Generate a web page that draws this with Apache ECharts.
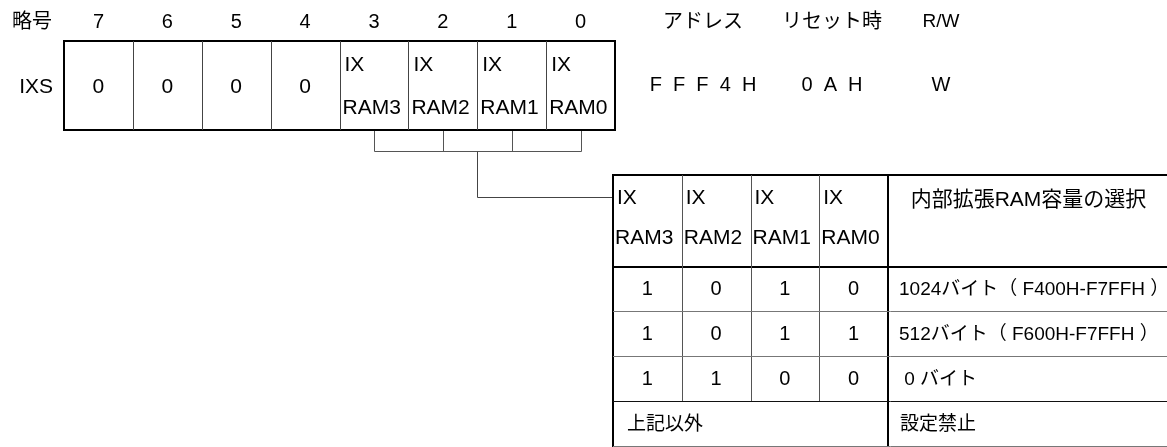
<!DOCTYPE html>
<html><head><meta charset="utf-8">
<script src="https://cdn.jsdelivr.net/npm/echarts@6/dist/echarts.min.js"></script>
<style>html,body{margin:0;padding:0;background:#fff}#c{width:1167px;height:447px}</style>
</head><body><div id="c"></div>
<script>
// ---- content (data) ----
const abbrevLabel = '略号';
const bitNumbers = ['7', '6', '5', '4', '3', '2', '1', '0'];
const registerName = 'IXS';
const registerCells = [['0'], ['0'], ['0'], ['0'], ['IX', 'RAM3'], ['IX', 'RAM2'], ['IX', 'RAM1'], ['IX', 'RAM0']];
const infoHeaders = ['アドレス', 'リセット時', 'R/W'];
const infoValues = ['F  F  F  4  H', '0  A  H', 'W'];
const tableBitHeaders = [['IX', 'RAM3'], ['IX', 'RAM2'], ['IX', 'RAM1'], ['IX', 'RAM0']];
const tableDescHeader = '内部拡張RAM容量の選択';
const tableBitRows = [['1', '0', '1', '0'], ['1', '0', '1', '1'], ['1', '1', '0', '0']];
const tableDescs = ['1024バイト（ F400H-F7FFH ）', '512バイト（ F600H-F7FFH ）', ' 0 バイト'];
const otherLabel = '上記以外';
const otherDesc = '設定禁止';

// ---- layout (positions in diagram units, mapped by hidden axes) ----
const W = 1167, H = 447;
const FONT = '"Liberation Sans", Arial, "Noto Sans CJK JP", sans-serif';
const regLeft = 64, regRight = 615, regTop = 41, regBottom = 130;
const regColW = (regRight - regLeft) / 8;
const headY = 22, cellY = 87, ixY = 65, ramY = 108, infoValY = 85;
const infoX = [703, 832, 941];
const brY = 151, brMidX = 477, connY = 197;
const tLeft = 613, tDiv = 888, tRight = 1180, tTop = 175, tHeadBottom = 267, tRowH = 45;
const tColW = (tDiv - tLeft) / 4;
const fsLatin = 21, fsCjk = 20, fsHeadNum = 20, fsCell = 20, fsDesc = 19, fsDescHead = 21;

const els = [];
function line(pts, w, c) { els.push({ k: 'line', pts, w, c }); }
function text(x, y, t, align, size) { els.push({ k: 'text', x, y, t, align, size }); }
const px = v => Math.round(v) + 0.5;

// register header row
text(12, headY, abbrevLabel, 'left', fsCjk);
bitNumbers.forEach((b, i) => text(regLeft + (i + 0.5) * regColW, headY, b, 'center', fsHeadNum));
infoHeaders.forEach((h, i) => text(infoX[i], headY, h, 'center', i === 2 ? 19 : fsCjk));
infoValues.forEach((v, i) => text(infoX[i], infoValY, v, 'center', 20));
text(53, cellY, registerName, 'right', fsLatin);
// register box
els.push({ k: 'rect', x: regLeft, y: regTop, w: regRight - regLeft, h: regBottom - regTop });
for (let i = 1; i < 8; i++) line([[px(regLeft + i * regColW), regTop], [px(regLeft + i * regColW), regBottom]], 1, '#444');
registerCells.forEach((c, i) => {
  const l = regLeft + i * regColW;
  if (c.length === 1) text(l + regColW / 2, cellY, c[0], 'center', fsLatin);
  else { text(l + 5, ixY, c[0], 'left', fsLatin); text(l + 3, ramY, c[1], 'left', fsLatin); }
});
// bracket
const brXs = [4, 5, 6, 7].map(i => px(regLeft + (i + 0.5) * regColW));
brXs.forEach(x => line([[x, regBottom + 1], [x, px(brY)]], 1, '#555'));
line([[brXs[0], px(brY)], [brXs[3], px(brY)]], 1, '#555');
line([[px(brMidX), px(brY)], [px(brMidX), px(connY)], [tLeft, px(connY)]], 1, '#444');
// table frame
line([[tLeft, H + 2], [tLeft, tTop], [tRight, tTop]], 2, '#000');
line([[tLeft, tHeadBottom], [tRight, tHeadBottom]], 2, '#000');
line([[tDiv, tTop], [tDiv, H + 2]], 2, '#000');
for (let i = 1; i < 4; i++) line([[px(tLeft + i * tColW), tTop], [px(tLeft + i * tColW), tHeadBottom + tRowH * tableBitRows.length]], 1, '#555');
for (let r = 1; r <= tableBitRows.length + 1; r++) {
  const y = px(tHeadBottom + r * tRowH - 1);
  line([[tLeft, y], [tRight, y]], 1, r === tableBitRows.length ? '#111' : '#777');
}
// table text
tableBitHeaders.forEach((h, i) => {
  const l = tLeft + i * tColW;
  text(l + 4, 198, h[0], 'left', fsLatin);
  text(l + 2, 238, h[1], 'left', fsLatin);
});
text((tDiv + W) / 2 + 1, 200, tableDescHeader, 'center', fsDescHead);
tableBitRows.forEach((row, r) => {
  const yc = tHeadBottom + (r + 0.5) * tRowH;
  row.forEach((v, i) => text(tLeft + (i + 0.5) * tColW, yc, v, 'center', fsCell));
  text(tDiv + 11, yc, tableDescs[r], 'left', fsDesc);
});
const yo = tHeadBottom + (tableBitRows.length + 0.5) * tRowH;
text(tLeft + 14, yo, otherLabel, 'left', fsDesc);
text(tDiv + 12, yo, otherDesc, 'left', fsDesc);

const chart = echarts.init(document.getElementById('c'), null, { renderer: 'canvas' });
chart.setOption({
  animation: false,
  backgroundColor: '#fff',
  grid: { left: 0, right: 0, top: 0, bottom: 0 },
  xAxis: { type: 'value', min: 0, max: W, show: false },
  yAxis: { type: 'value', min: 0, max: H, inverse: true, show: false },
  series: [{
    type: 'custom', silent: true, clip: false,
    data: els.map((e, i) => [i]),
    renderItem: (params, api) => {
      const e = els[params.dataIndex];
      if (e.k === 'line') {
        const pts = e.pts.map(p => api.coord(p));
        return { type: 'polyline', shape: { points: pts }, style: { stroke: e.c, lineWidth: e.w, fill: null } };
      }
      if (e.k === 'rect') {
        const a = api.coord([e.x, e.y]), b = api.coord([e.x + e.w, e.y + e.h]);
        return { type: 'rect', shape: { x: a[0], y: a[1], width: b[0] - a[0], height: b[1] - a[1] }, style: { stroke: '#000', lineWidth: 2, fill: null } };
      }
      const p = api.coord([e.x, e.y]);
      return { type: 'text', x: p[0], y: p[1], style: { text: e.t, fill: '#000', fontSize: e.size, fontFamily: FONT, align: e.align, verticalAlign: 'middle' } };
    }
  }]
});
</script></body></html>
